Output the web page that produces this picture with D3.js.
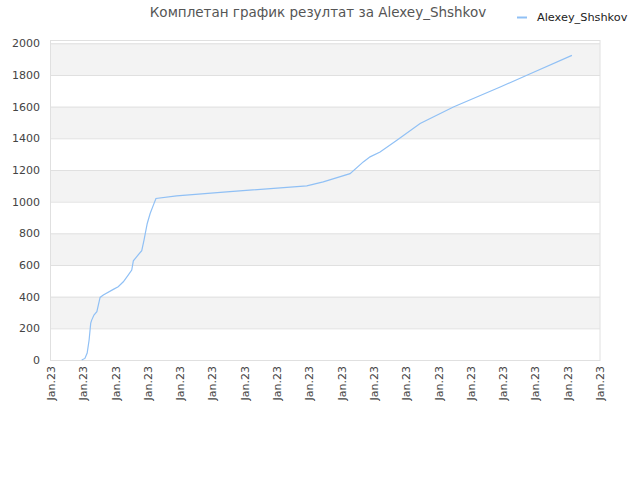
<!DOCTYPE html>
<html><head><meta charset="utf-8">
<script src="https://cdn.jsdelivr.net/npm/d3@7"></script>
<style>body{margin:0;background:#fff}svg{display:block}</style>
</head><body>
<svg id="c" width="640" height="480"></svg>
<script>
const title = "Комплетан график резултат за Alexey_Shshkov";
const seriesName = "Alexey_Shshkov";
const xTickLabels = ["Jan.23","Jan.23","Jan.23","Jan.23","Jan.23","Jan.23","Jan.23","Jan.23","Jan.23","Jan.23","Jan.23","Jan.23","Jan.23","Jan.23","Jan.23","Jan.23","Jan.23","Jan.23"];
const yTicks = [0,200,400,600,800,1000,1200,1400,1600,1800,2000];
const xVals = [0.95,1.05,1.12,1.18,1.23,1.26,1.33,1.42,1.52,1.62,1.93,2.08,2.24,2.39,2.50,2.55,2.65,2.81,2.88,2.98,3.07,3.17,3.25,3.89,5.44,7.92,8.43,9.26,9.67,9.88,10.19,10.71,11.43,12.46,13.91,14.84,16.13];
const yVals = [0,10,44,126,233,252,284,305,395,410,446,463,494,536,568,626,652,690,757,862,925,978,1020,1037,1062,1100,1125,1177,1251,1283,1314,1388,1493,1598,1724,1808,1924];

const svg = d3.select("#c");
const L = 51, R = 600, T = 40, B = 360;
const x = d3.scaleLinear().domain([0, xTickLabels.length - 1]).range([L, R]);
const y = d3.scaleLinear().domain([0, 2000]).range([B, 43.3]);

// bands
const bandEdges = yTicks.concat([y.invert(T)]);
for (let i = 0; i < bandEdges.length - 1; i++) {
  if (i % 2 === 1) {
    svg.append("rect").attr("x", L).attr("width", R - L)
      .attr("y", y(bandEdges[i + 1])).attr("height", y(bandEdges[i]) - y(bandEdges[i + 1]))
      .attr("fill", "#f3f3f3");
  }
}
// grid
svg.append("g").selectAll("line").data(yTicks).join("line")
  .attr("x1", L).attr("x2", R).attr("y1", d => y(d) + 0.5).attr("y2", d => y(d) + 0.5)
  .attr("stroke", "#e0e0e0").attr("stroke-width", 1);
// frame
svg.append("rect").attr("x", L - 0.5).attr("y", T + 0.5).attr("width", R - L + 0.5).attr("height", B - T)
  .attr("fill", "none").attr("stroke", "#e0e0e0");

// y axis labels
svg.append("g").selectAll("text").data(yTicks).join("text")
  .attr("x", 40).attr("y", d => y(d) + 4).attr("text-anchor", "end")
  .attr("font-family", "DejaVu Sans, sans-serif").attr("font-size", 11).attr("fill", "#444")
  .text(d => d);

// x axis labels
svg.append("g").selectAll("text").data(xTickLabels).join("text")
  .attr("transform", (d, i) => `translate(${x(i) + 4},366) rotate(-90)`)
  .attr("text-anchor", "end")
  .attr("font-family", "DejaVu Sans, sans-serif").attr("font-size", 11).attr("fill", "#444")
  .text(d => d);

// line
const pts = xVals.map((v, i) => [v, yVals[i]]);
svg.append("path").datum(pts)
  .attr("d", d3.line().x(d => x(d[0])).y(d => y(d[1])))
  .attr("fill", "none").attr("stroke", "#90c0f5").attr("stroke-width", 1.2);

// title
svg.append("text").attr("x", 318).attr("y", 17).attr("text-anchor", "middle")
  .attr("font-family", "DejaVu Sans, sans-serif").attr("font-size", 13.5).attr("fill", "#555")
  .text(title);

// legend
svg.append("line").attr("x1", 517).attr("x2", 527).attr("y1", 17.5).attr("y2", 17.5)
  .attr("stroke", "#90c0f5").attr("stroke-width", 2);
svg.append("text").attr("x", 537).attr("y", 21)
  .attr("font-family", "DejaVu Sans, sans-serif").attr("font-size", 11.3).attr("fill", "#222")
  .text(seriesName);
</script>
</body></html>
